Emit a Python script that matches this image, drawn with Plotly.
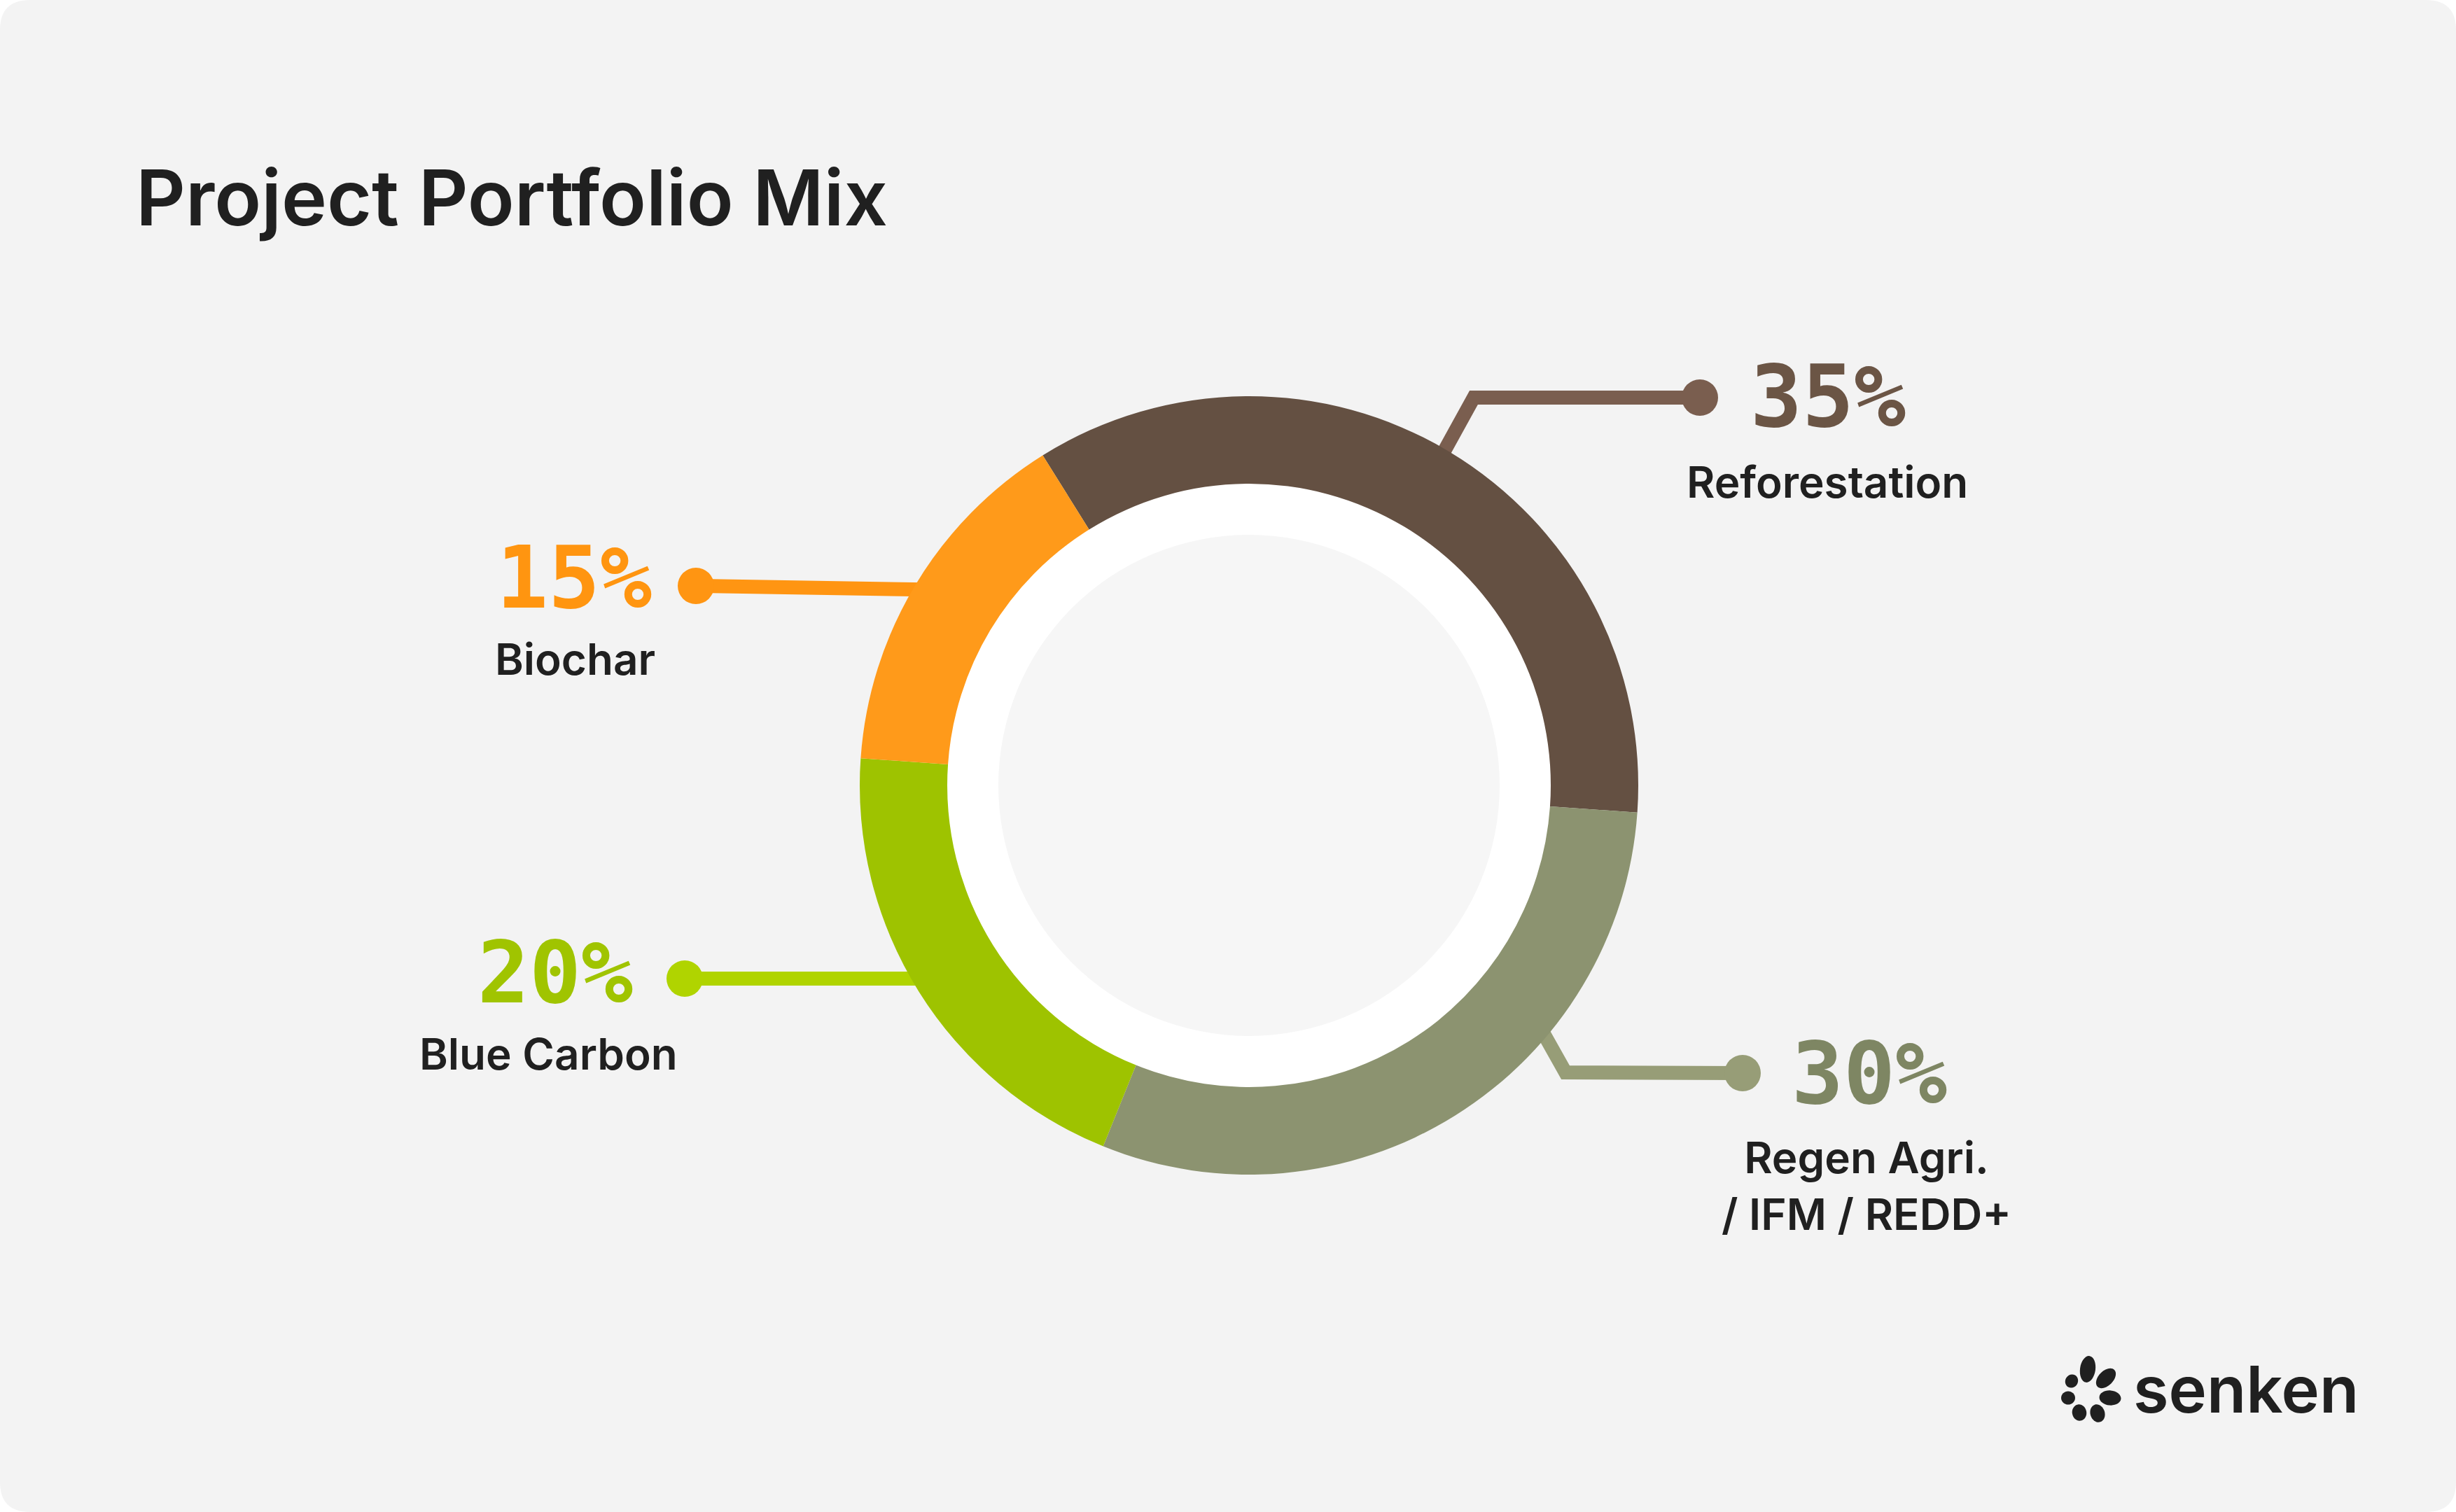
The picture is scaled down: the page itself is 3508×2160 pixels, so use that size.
import plotly.graph_objects as go
import math

# ---------------- data ----------------
categories = ["Reforestation", "Regen Agri.<br>/ IFM / REDD+", "Blue Carbon", "Biochar"]
shares = [35, 30, 20, 15]
share_labels = [f"{v}%" for v in shares]
title_text = "Project Portfolio Mix"
brand_text = "senken"

# ---------------- styling / layout ----------------
W, H = 3508, 2160
BG = "#f3f3f3"
DARK = "#202020"
ring_colors = ["#645042", "#8c9370", "#9ec300", "#ff9a1a"]
line_colors = ["#7a5e4f", "#979d77", "#b0d400", "#ff9512"]
pct_colors = ["#6b5545", "#7e8663", "#a0c400", "#ff9510"]

CX, CY = 1784, 1122      # donut centre (px)
R_OUT, R_IN, R_WHITE = 556, 431, 358


def px(x):
    return x / W


def py(y):
    return 1 - y / H


fig = go.Figure()

fig.add_trace(go.Pie(
    values=shares,
    labels=categories,
    sort=False,
    direction="clockwise",
    rotation=-32,
    hole=R_IN / R_OUT,
    marker=dict(colors=ring_colors, line=dict(width=0)),
    textinfo="none",
    hoverinfo="skip",
    showlegend=False,
    domain=dict(x=[px(CX - R_OUT), px(CX + R_OUT)],
                y=[py(CY + R_OUT), py(CY - R_OUT)]),
))

shapes = []

# card with rounded corners
rc = 43
card = (f"M {px(rc)},{py(0)} L {px(W-rc)},{py(0)} Q {px(W)},{py(0)} {px(W)},{py(rc)} "
        f"L {px(W)},{py(H-rc)} Q {px(W)},{py(H)} {px(W-rc)},{py(H)} "
        f"L {px(rc)},{py(H)} Q {px(0)},{py(H)} {px(0)},{py(H-rc)} "
        f"L {px(0)},{py(rc)} Q {px(0)},{py(0)} {px(rc)},{py(0)} Z")
shapes.append(dict(type="path", path=card, xref="paper", yref="paper",
                   fillcolor=BG, line=dict(width=0), layer="below"))

# leader lines (pixel polylines), order matches categories
leaders = [
    [(2428, 568), (2105, 568), (2035, 695)],
    [(2489, 1533), (2236, 1532), (2177, 1427)],
    [(978, 1398), (1360, 1398)],
    [(994, 837), (1370, 843)],
]
for pts, col in zip(leaders, line_colors):
    p = "M " + " L ".join(f"{px(x)},{py(y)}" for x, y in pts)
    shapes.append(dict(type="path", path=p, xref="paper", yref="paper",
                       line=dict(color=col, width=20), layer="below"))

# white ring and inner disc
for r, col in [(R_IN + 1, "#ffffff"), (R_WHITE, "#f6f6f6")]:
    shapes.append(dict(type="circle", xref="paper", yref="paper",
                       x0=px(CX - r), x1=px(CX + r), y0=py(CY + r), y1=py(CY - r),
                       fillcolor=col, line=dict(width=0), layer="below"))

# dots
dots = [(2428, 568), (2489, 1533), (978, 1398), (994, 837)]
for (x, y), col in zip(dots, line_colors):
    r = 26
    shapes.append(dict(type="circle", xref="paper", yref="paper",
                       x0=px(x - r), x1=px(x + r), y0=py(y + r), y1=py(y - r),
                       fillcolor=col, line=dict(width=0), layer="above"))

# logo petals (cx, cy, semi-major, semi-minor, tilt of major axis from vertical, deg clockwise)
petals = [
    (2982, 1956, 19, 11, 8),
    (3008, 1969, 17, 10.5, 45),
    (2959, 1973, 9.8, 9, 30),
    (2954, 1997, 10, 9.6, 90),
    (3014, 1997, 15.5, 10.6, 95),
    (2970, 2018, 11.8, 10.2, -10),
    (2996, 2019, 13, 10.3, -18),
]
k = 0.5523
for cx, cy, a, b, t in petals:
    th = math.radians(t)
    U = (math.sin(th), -math.cos(th))
    V = (math.cos(th), math.sin(th))

    def P(s, u):
        return (cx + s * U[0] + u * V[0], cy + s * U[1] + u * V[1])

    segs = [
        (P(a, 0), P(a, k * b), P(k * a, b), P(0, b)),
        (P(0, b), P(-k * a, b), P(-a, k * b), P(-a, 0)),
        (P(-a, 0), P(-a, -k * b), P(-k * a, -b), P(0, -b)),
        (P(0, -b), P(k * a, -b), P(a, -k * b), P(a, 0)),
    ]
    path = f"M {px(segs[0][0][0])},{py(segs[0][0][1])}"
    for _, c1, c2, e in segs:
        path += (f" C {px(c1[0])},{py(c1[1])} {px(c2[0])},{py(c2[1])}"
                 f" {px(e[0])},{py(e[1])}")
    path += " Z"
    shapes.append(dict(type="path", path=path, xref="paper", yref="paper",
                       fillcolor=DARK, line=dict(width=0), layer="above"))

annotations = []
annotations.append(dict(text=title_text, x=px(192), y=py(282), xref="paper", yref="paper",
                        xanchor="left", yanchor="middle", showarrow=False,
                        font=dict(family="Inter", size=110, color=DARK, weight=600)))

pct_pos = [(2611, 566), (2670, 1533), (793, 1389), (820, 825)]
lab_pos = [(2610, 688), (2666, 1694), (783, 1505), (821, 941)]
for i in range(len(shares)):
    annotations.append(dict(text=share_labels[i], x=px(pct_pos[i][0]), y=py(pct_pos[i][1]),
                            xref="paper", yref="paper", xanchor="center", yanchor="middle",
                            showarrow=False,
                            font=dict(family="DejaVu Sans Mono", size=123,
                                      color=pct_colors[i], weight="bold")))
    annotations.append(dict(text=categories[i], x=px(lab_pos[i][0]), y=py(lab_pos[i][1]),
                            xref="paper", yref="paper", xanchor="center", yanchor="middle",
                            showarrow=False,
                            font=dict(family="Inter", size=62, color=DARK, weight=600)))

annotations.append(dict(text=brand_text, x=px(3045), y=py(1984), xref="paper", yref="paper",
                        xanchor="left", yanchor="middle", showarrow=False,
                        font=dict(family="Inter", size=92, color=DARK, weight=600)))

fig.update_layout(
    width=W, height=H,
    margin=dict(l=0, r=0, t=0, b=0),
    paper_bgcolor="#ffffff",
    plot_bgcolor="#ffffff",
    shapes=shapes,
    annotations=annotations,
)

fig.write_html("out.html")
